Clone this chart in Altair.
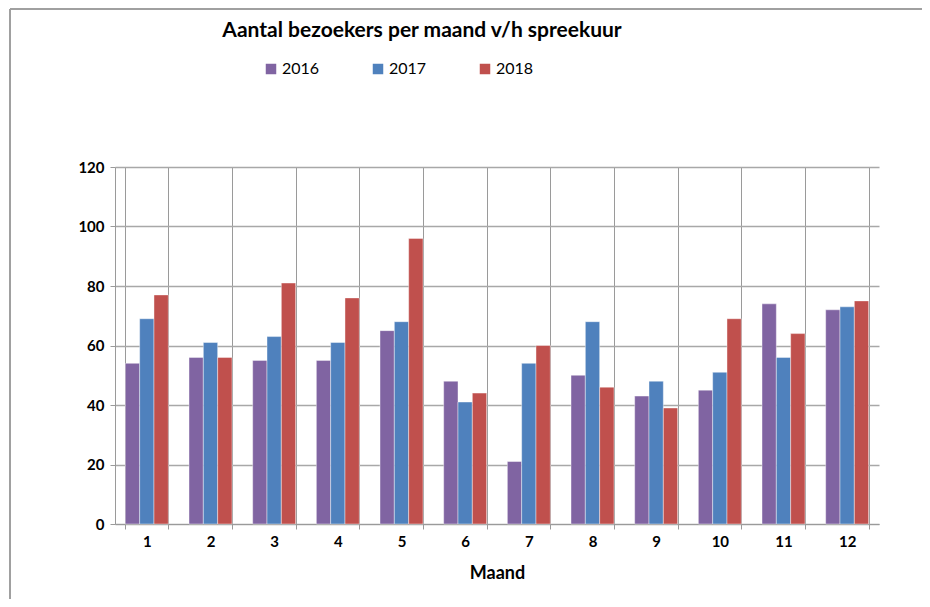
import altair as alt
import pandas as pd

months = [str(i) for i in range(1, 13)]
years = ["2016", "2017", "2018"]
v2016 = [54, 56, 55, 55, 65, 48, 21, 50, 43, 45, 74, 72]
v2017 = [69, 61, 63, 61, 68, 41, 54, 68, 48, 51, 56, 73]
v2018 = [77, 56, 81, 76, 96, 44, 60, 46, 39, 69, 64, 75]
colors = ["#8064A2", "#4F81BD", "#C0504D"]
y_ticks = [0, 20, 40, 60, 80, 100, 120]

rows = []
for yr, vals in zip(years, [v2016, v2017, v2018]):
    for m, v in zip(months, vals):
        rows.append({"Maand": m, "Jaar": yr, "Bezoekers": v})
df = pd.DataFrame(rows)

FONT = "Lato"

bars = alt.Chart(df).mark_bar(stroke="white", strokeWidth=0.6, strokeOpacity=0.7).encode(
    x=alt.X(
        "Maand:N",
        sort=months,
        scale=alt.Scale(paddingInner=0.325, paddingOuter=0.1625),
        axis=alt.Axis(
            title="Maand", labelAngle=0, tickBand="extent", grid=True,
            gridColor="#9a9a9a", gridWidth=1, tickColor="#9a9a9a", tickSize=5,
            domainColor="#9a9a9a", labelFont=FONT, labelFontSize=15,
            labelFontWeight="bold", labelColor="#000", labelPadding=5,
            titleFont=FONT, titleFontSize=18, titleFontWeight="bold",
            titleColor="#000", titlePadding=15,
        ),
    ),
    xOffset=alt.XOffset("Jaar:N", sort=years),
    y=alt.Y(
        "Bezoekers:Q",
        scale=alt.Scale(domain=[0, 120]),
        axis=alt.Axis(
            values=y_ticks, title=None, grid=True, gridColor="#a8a8a8",
            gridWidth=1.3, tickColor="#9a9a9a", tickSize=5,
            domainColor="#9a9a9a", labelFont=FONT, labelFontSize=15,
            labelFontWeight="bold", labelColor="#000", labelPadding=6,
        ),
    ),
    color=alt.Color(
        "Jaar:N",
        scale=alt.Scale(domain=years, range=colors),
        legend=alt.Legend(
            title=None, orient="none", legendX=148, legendY=-106,
            direction="horizontal", symbolType="square", symbolSize=110,
            symbolStrokeWidth=0, labelFont=FONT, labelFontSize=16,
            labelColor="#000", columnPadding=50, labelOffset=3, padding=0,
        ),
    ),
)

frame_left = alt.Chart(df).mark_rule(color="#a0a0a0", strokeWidth=2).encode(
    x=alt.value(-105), y=alt.value(-158), y2=alt.value(440)
)
frame_top = alt.Chart(df).mark_rule(color="#a0a0a0", strokeWidth=2).encode(
    x=alt.value(-105), x2=alt.value(830), y=alt.value(-158)
)

chart = alt.layer(bars, frame_left, frame_top).properties(
    width=764,
    height=357,
    padding={"left": 107, "top": 159, "right": 43, "bottom": 75},
    autosize=alt.AutoSizeParams(type="none"),
    title=alt.TitleParams(
        "Aantal bezoekers per maand v/h spreekuur",
        anchor="middle", dx=-75, offset=-33, font=FONT, fontSize=21,
        fontWeight="bold", color="#000",
    ),
).configure_view(stroke=None)

chart.save("out.html", embed_options={"renderer": "svg", "actions": False})
